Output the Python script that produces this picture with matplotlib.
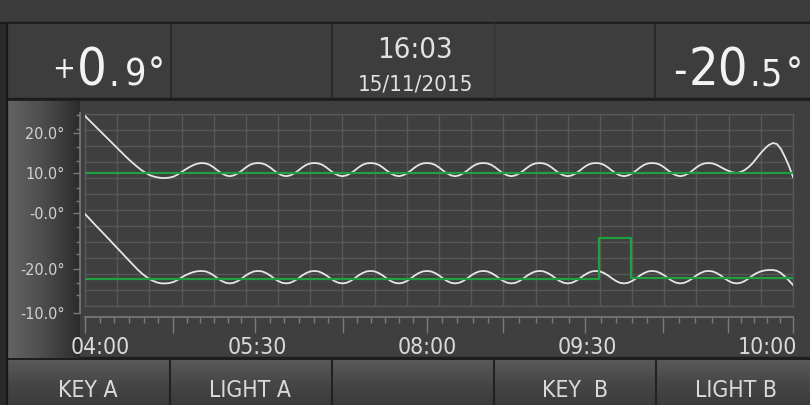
import numpy as np
import matplotlib
matplotlib.use('Agg')
import matplotlib.pyplot as plt
from matplotlib.patches import Rectangle
from matplotlib.colors import LinearSegmentedColormap

plt.rcParams['font.family'] = ['DejaVu Sans']
plt.rcParams['font.stretch'] = 'condensed'

# --- chart data (x in grid columns 0..22, y in degrees) ---
x_samples = np.linspace(0, 22, 177)

probe_a = [24.25, 23.25, 22.25, 21.25, 20.25, 19.25, 18.25, 17.25, 16.25, 15.25,
           14.25, 13.3, 12.4, 11.55, 10.75, 10.1, 9.5, 9.15, 8.9, 8.75,
           8.75, 8.85, 9.1, 9.6, 10.25, 10.9, 11.5, 12.0, 12.35,
           12.5, 12.4, 12.05, 11.4, 10.6, 9.9, 9.4, 9.2, 9.4, 9.9, 10.6, 11.4, 12.05, 12.4,
           12.5, 12.4, 12.05, 11.4, 10.6, 9.9, 9.4, 9.2, 9.4, 9.9, 10.6, 11.4, 12.05, 12.4,
           12.5, 12.4, 12.05, 11.4, 10.6, 9.9, 9.4, 9.2, 9.4, 9.9, 10.6, 11.4, 12.05, 12.4,
           12.5, 12.4, 12.05, 11.4, 10.6, 9.9, 9.4, 9.2, 9.4, 9.9, 10.6, 11.4, 12.05, 12.4,
           12.5, 12.4, 12.05, 11.4, 10.6, 9.9, 9.4, 9.2, 9.4, 9.9, 10.6, 11.4, 12.05, 12.4,
           12.5, 12.4, 12.05, 11.4, 10.6, 9.9, 9.4, 9.2, 9.4, 9.9, 10.6, 11.4, 12.05, 12.4,
           12.5, 12.4, 12.05, 11.4, 10.6, 9.9, 9.4, 9.2, 9.4, 9.9, 10.6, 11.4, 12.05, 12.4,
           12.5, 12.4, 12.05, 11.4, 10.6, 9.9, 9.4, 9.2, 9.4, 9.9, 10.6, 11.4, 12.05, 12.4,
           12.5, 12.4, 12.05, 11.4, 10.6, 9.9, 9.4, 9.2, 9.4, 9.9, 10.6, 11.4, 12.05, 12.4,
           12.5, 12.4, 12.05,
           11.5, 10.95, 10.5, 10.15, 10.0, 10.25, 10.75, 11.5, 12.5, 13.75,
           15.0, 16.1, 17.0, 17.5, 17.25, 16.0, 14.0, 11.75, 9.0]

probe_b = [-0.25, -1.3, -2.4, -3.45, -4.5, -5.55, -6.6, -7.7, -8.75, -9.8,
           -10.9, -11.95, -13.0, -14.05, -15.0, -15.8, -16.5, -17.0, -17.4, -17.6,
           -17.6, -17.5, -17.25, -16.75, -16.1, -15.55, -15.1, -14.75, -14.55,
           -14.5, -14.6, -15.0, -15.6, -16.35, -17.0, -17.45, -17.6, -17.45, -17.0, -16.35, -15.6, -15.0, -14.6,
           -14.5, -14.6, -15.0, -15.6, -16.35, -17.0, -17.45, -17.6, -17.45, -17.0, -16.35, -15.6, -15.0, -14.6,
           -14.5, -14.6, -15.0, -15.6, -16.35, -17.0, -17.45, -17.6, -17.45, -17.0, -16.35, -15.6, -15.0, -14.6,
           -14.5, -14.6, -15.0, -15.6, -16.35, -17.0, -17.45, -17.6, -17.45, -17.0, -16.35, -15.6, -15.0, -14.6,
           -14.5, -14.6, -15.0, -15.6, -16.35, -17.0, -17.45, -17.6, -17.45, -17.0, -16.35, -15.6, -15.0, -14.6,
           -14.5, -14.6, -15.0, -15.6, -16.35, -17.0, -17.45, -17.6, -17.45, -17.0, -16.35, -15.6, -15.0, -14.6,
           -14.5, -14.6, -15.0, -15.6, -16.35, -17.0, -17.45, -17.6, -17.45, -17.0, -16.35, -15.6, -15.0, -14.6,
           -14.5, -14.6, -15.0, -15.6, -16.35, -17.0, -17.45, -17.6, -17.45, -17.0, -16.35, -15.6, -15.0, -14.6,
           -14.5, -14.6, -15.0, -15.6, -16.35, -17.0, -17.45, -17.6, -17.45, -17.0, -16.35, -15.6, -15.0, -14.6,
           -14.5, -14.6, -15.0, -15.6, -16.35, -17.0, -17.45, -17.6,
           -17.45, -17.0, -16.35, -15.6, -15.0, -14.6, -14.35, -14.25, -14.25, -14.45,
           -15.0, -15.9, -16.9, -18.0]

setpoint_a_x = [0, 22]
setpoint_a_y = [10, 10]
setpoint_b_x = [0, 15.97, 15.97, 16.97, 16.97, 22]
setpoint_b_y = [-16.5, -16.5, -6.25, -6.25, -16.25, -16.25]

y_tick_pos = [20, 10, 0, -14, -25]
y_tick_labels = ['20.0°', '10.0°', '-0.0°', '-20.0°', '-10.0°']
y_minor_pos = [24.5, 21, 16.5, 13, 6.25, 3, -3.5, -7.25, -10.25, -17.5, -20.5]

x_major_ticks = [0, 2.74, 5.28, 8.02, 10.63, 12.99, 15.54, 17.96, 19.98, 22]
x_subdiv = [6, 6, 6, 6, 5, 5, 5, 4, 5]
x_label_pos = [0.47, 5.35, 10.63, 15.6, 21.2]
x_labels = ['04:00', '05:30', '08:00', '09:30', '10:00']

reading_a = ['+', '0', '.', '9', '°']
reading_b = ['-', '20', '.', '5', '°']
clock_time = '16:03'
clock_date = '15/11/2015'
buttons = ['KEY A', 'LIGHT A', '', 'KEY  B', 'LIGHT B']

W, H = 810, 405
fig = plt.figure(figsize=(W / 100, H / 100), dpi=100)
fig.patch.set_facecolor('#3c3c3c')


def px_rect(x0, y0, x1, y1):
    return [x0 / W, (H - y1) / H, (x1 - x0) / W, (y1 - y0) / H]


# --- background panels in pixel coords ---
bg = fig.add_axes([0, 0, 1, 1], zorder=-5)
bg.set_xlim(0, W)
bg.set_ylim(H, 0)
bg.axis('off')

bg.add_patch(Rectangle((0, 0), W, H, color='#3c3c3c'))
bg.add_patch(Rectangle((0, 22), W, 2, color='#1c1c1c'))
bg.add_patch(Rectangle((8, 24), W - 8, 74, color='#3d3d3d'))
for sx, sc in zip([171, 332, 495, 655], ['#262626', '#262626', '#353535', '#262626']):
    bg.plot([sx, sx], [24, 98], color=sc, lw=1.2)
bg.add_patch(Rectangle((0, 98), W, 3, color='#1c1c1c'))
bg.add_patch(Rectangle((8, 101), W - 8, 257, color='#3f3f3f'))

grad_h = LinearSegmentedColormap.from_list('gh', ['#646464', '#4c4c4c', '#2c2c2c'])
bg.imshow(np.linspace(0, 1, 200).reshape(1, -1), cmap=grad_h, aspect='auto',
          extent=(8, 80, 358, 101), zorder=2)

bg.add_patch(Rectangle((0, 357), W, 3, color='#1e1e1e'))
grad_v = LinearSegmentedColormap.from_list('gv', ['#5a5a5a', '#474747', '#3b3b3b'])
bg.imshow(np.linspace(0, 1, 100).reshape(-1, 1), cmap=grad_v, aspect='auto',
          extent=(8, W, H, 360), zorder=2)
for sx in [170, 332, 494, 656]:
    bg.plot([sx, sx], [360, H], color='#222222', lw=1.5, zorder=3)

bg.add_patch(Rectangle((0, 24), 7, H - 24, color='#2a2a2a', zorder=4))
bg.plot([7, 7], [24, H], color='#161616', lw=1.2, zorder=4)

# header readings
seg_a = [(52, 77.5, 22), (77, 86, 37.5), (108.5, 86, 27), (124.5, 86, 27), (148, 84, 27)]
seg_b = [(673, 84, 30), (689, 86, 37.5), (749.5, 86, 27), (760, 86, 27), (786, 84, 27)]
for chars, segs in [(reading_a, seg_a), (reading_b, seg_b)]:
    for ch, (tx, ty, fs) in zip(chars, segs):
        bg.text(tx, ty, ch, color='#f2f2f2', fontsize=fs, ha='left',
                va='baseline', zorder=5)

bg.text(415, 58, clock_time, color='#e2e2e2', fontsize=21, ha='center',
        va='baseline', zorder=5)
bg.text(416, 91, clock_date, color='#e2e2e2', fontsize=16, ha='center',
        va='baseline', zorder=5)

for bx, label in zip([88, 250, 413, 575, 736], buttons):
    bg.text(bx, 397, label, color='#dadada', fontsize=16.5, ha='center',
            va='baseline', zorder=5)

# --- plot area ---
ax = fig.add_axes(px_rect(85, 114, 793, 306))
ax.set_facecolor('none')
ax.set_xlim(0, 22)
ax.set_ylim(-23.25, 24.75)
ax.set_xticks(np.arange(0, 23, 1))
ax.set_yticks(np.linspace(-23.25, 24.75, 13))
ax.tick_params(length=0, labelbottom=False, labelleft=False)
ax.grid(True, color='#585858', lw=1.0)
ax.set_axisbelow(True)
for sp in ax.spines.values():
    sp.set_color('#585858')
    sp.set_linewidth(1.0)

ax.plot(x_samples, probe_a, color='#e6e6e6', lw=1.3, zorder=3)
ax.plot(x_samples, probe_b, color='#e6e6e6', lw=1.3, zorder=3)
ax.plot(setpoint_a_x, setpoint_a_y, color='#1fa040', lw=1.6, zorder=4)
ax.plot(setpoint_b_x, setpoint_b_y, color='#1fa040', lw=1.6, zorder=4)

# --- y ruler ---
ax_y = fig.add_axes(px_rect(66, 113, 80, 313))
ax_y.set_facecolor('none')
ax_y.set_ylim(-25, 25)
ax_y.set_xticks([])
for name, sp in ax_y.spines.items():
    sp.set_visible(name == 'right')
ax_y.spines['right'].set_color('#7a7a7a')
ax_y.spines['right'].set_linewidth(1.2)
ax_y.set_yticks(y_tick_pos, y_tick_labels)
ax_y.set_yticks(y_minor_pos, minor=True)
ax_y.tick_params(axis='y', which='both', left=False, right=True, labelleft=True,
                 labelright=False, direction='in', color='#7a7a7a',
                 labelcolor='#d2d2d2', labelsize=11.5, pad=1, width=1)
ax_y.tick_params(axis='y', which='major', length=5)
ax_y.tick_params(axis='y', which='minor', length=3)

# --- x ruler ---
ax_x = fig.add_axes(px_rect(85, 317, 793, 360))
ax_x.set_facecolor('none')
ax_x.set_xlim(0, 22)
ax_x.set_ylim(0, 1)
ax_x.set_yticks([])
for name, sp in ax_x.spines.items():
    sp.set_visible(name == 'top')
ax_x.spines['top'].set_color('#7a7a7a')
ax_x.spines['top'].set_linewidth(1.2)
minor_x = []
for a, b, n in zip(x_major_ticks[:-1], x_major_ticks[1:], x_subdiv):
    minor_x.extend(np.linspace(a, b, n + 1)[1:-1])
ax_x.xaxis.set_ticks_position('top')
ax_x.set_xticks(x_major_ticks)
ax_x.set_xticks(minor_x, minor=True)
ax_x.tick_params(axis='x', which='both', direction='in', labeltop=False,
                 labelbottom=False, color='#7a7a7a', width=1)
ax_x.tick_params(axis='x', which='major', length=11.5)
ax_x.tick_params(axis='x', which='minor', length=4.3)
for pos, lab in zip(x_label_pos, x_labels):
    ax_x.text(pos, 6 / 43, lab, transform=ax_x.get_xaxis_transform(),
              color='#dadada', fontsize=16.5, ha='center', va='baseline')

fig.savefig('out.png', dpi=100, facecolor=fig.get_facecolor())
